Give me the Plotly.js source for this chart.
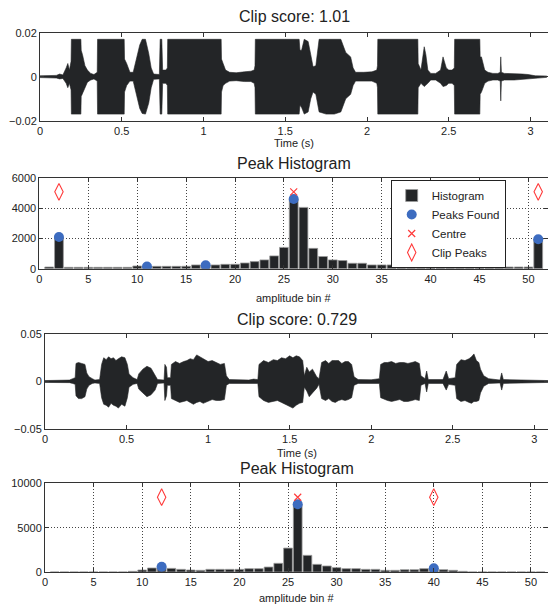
<!DOCTYPE html>
<html><head><meta charset="utf-8">
<script src="https://cdn.plot.ly/plotly-3.0.1.min.js"></script>
<style>html,body{margin:0;padding:0;background:#fff}</style>
</head><body><div id="chart" style="width:548px;height:604px"></div>
<script>
// ---- Waveform 1 envelope (clipped) ----
const waveTime1 = [
0, 0.05, 0.10, 0.12, 0.14, 0.16, 0.17, 0.18, 0.19, 0.192,
0.250, 0.252, 0.26, 0.275, 0.29, 0.31, 0.33, 0.35, 0.352, 0.515,
0.517, 0.53, 0.55, 0.57, 0.59, 0.61, 0.625, 0.645, 0.665, 0.68,
0.695, 0.71, 0.73, 0.735, 0.745, 0.75, 0.77, 0.779, 0.781, 1.108,
1.11, 1.12, 1.135, 1.16, 1.2, 1.25, 1.29, 1.31, 1.315, 1.317,
1.585, 1.59, 1.6, 1.616, 1.64, 1.656, 1.67, 1.687, 1.70, 1.707,
1.75, 1.8, 1.84, 1.87, 1.90, 1.915, 1.93, 1.98, 2.03, 2.06,
2.064, 2.066, 2.311, 2.313, 2.33, 2.35, 2.36, 2.372, 2.39, 2.42,
2.45, 2.465, 2.485, 2.5, 2.52, 2.534, 2.536, 2.69, 2.692, 2.70,
2.72, 2.74, 2.77, 2.80, 2.815, 2.818, 2.822, 2.84, 2.9, 2.95,
2.985, 3.03, 3.1];
const waveUpper1 = [
0.0004, 0.0005, 0.0006, 0.0012, 0.0008, 0.004, 0.006, 0.003, 0.007, 0.017,
0.017, 0.012, 0.010, 0.005, 0.003, 0.0015, 0.001, 0.002, 0.017, 0.017,
0.008, 0.006, 0.002, 0.002, 0.009, 0.0144, 0.017, 0.017, 0.0106, 0.004,
0.0012, 0.001, 0.001, 0.017, 0.017, 0.003, 0.003, 0.004, 0.017, 0.017,
0.008, 0.006, 0.003, 0.002, 0.0018, 0.0022, 0.0025, 0.003, 0.005, 0.017,
0.017, 0.012, 0.012, 0.017, 0.016, 0.010, 0.0045, 0.005, 0.012, 0.017,
0.017, 0.017, 0.017, 0.011, 0.009, 0.004, 0.002, 0.002, 0.0022, 0.003,
0.005, 0.017, 0.017, 0.006, 0.003, 0.0136, 0.010, 0.003, 0.0015, 0.0015,
0.003, 0.009, 0.004, 0.003, 0.003, 0.004, 0.017, 0.017, 0.009, 0.009,
0.003, 0.002, 0.0015, 0.0015, 0.002, 0.009, 0.002, 0.0015, 0.0015, 0.0012,
0.001, 0.0004, 0.0003];
const waveLower1 = [
-0.0004, -0.0005, -0.0006, -0.001, -0.0008, -0.003, -0.005, -0.003, -0.006, -0.017,
-0.017, -0.009, -0.0076, -0.005, -0.0025, -0.0015, -0.001, -0.002, -0.017, -0.017,
-0.007, -0.004, -0.002, -0.002, -0.009, -0.0144, -0.0167, -0.017, -0.012, -0.005,
-0.0012, -0.001, -0.001, -0.017, -0.017, -0.003, -0.003, -0.004, -0.017, -0.017,
-0.007, -0.004, -0.003, -0.002, -0.0018, -0.0022, -0.0022, -0.003, -0.005, -0.017,
-0.017, -0.013, -0.014, -0.017, -0.016, -0.010, -0.007, -0.008, -0.013, -0.016,
-0.017, -0.017, -0.016, -0.010, -0.008, -0.004, -0.002, -0.002, -0.002, -0.003,
-0.005, -0.017, -0.017, -0.005, -0.003, -0.0045, -0.004, -0.003, -0.0015, -0.0015,
-0.003, -0.0045, -0.004, -0.003, -0.003, -0.004, -0.017, -0.017, -0.008, -0.007,
-0.003, -0.002, -0.0015, -0.0015, -0.002, -0.011, -0.002, -0.0015, -0.0015, -0.0012,
-0.001, -0.0004, -0.0003];

// ---- Waveform 2 envelope ----
const waveTime2 = [
0, 0.10, 0.15, 0.17, 0.185, 0.19, 0.205, 0.225, 0.245, 0.256, 0.27, 0.29, 0.306, 0.335,
0.347, 0.36, 0.375, 0.39, 0.405, 0.42, 0.435, 0.45, 0.47, 0.49, 0.505, 0.515, 0.54, 0.565,
0.575, 0.60, 0.625, 0.65, 0.675, 0.69, 0.73, 0.735, 0.745, 0.75, 0.77,
0.775, 0.80, 0.825, 0.85, 0.87, 0.89, 0.91, 0.93, 0.95, 0.97, 1.0, 1.025, 1.05, 1.075, 1.10, 1.112, 1.13, 1.2, 1.25, 1.28, 1.305,
1.312, 1.34, 1.37, 1.40, 1.425, 1.45, 1.475, 1.50, 1.52, 1.54, 1.56, 1.58, 1.59, 1.605, 1.62, 1.64, 1.666, 1.68,
1.696, 1.72, 1.74, 1.76, 1.78, 1.80, 1.82, 1.84, 1.86, 1.88, 1.895, 1.92, 2.0, 2.05,
2.058, 2.08, 2.10, 2.125, 2.15, 2.175, 2.20, 2.225, 2.25, 2.27, 2.295, 2.305, 2.33, 2.34, 2.35, 2.44, 2.46, 2.475, 2.515,
2.524, 2.55, 2.575, 2.60, 2.615, 2.63, 2.645, 2.66, 2.67, 2.69, 2.72, 2.79, 2.80, 2.81, 2.9, 3.0, 3.084];
const waveUpper2 = [
0.001, 0.001, 0.0015, 0.003, 0.004, 0.019, 0.020, 0.019, 0.018, 0.009, 0.005, 0.003, 0.0015, 0.002,
0.018, 0.025, 0.023, 0.026, 0.024, 0.025, 0.022, 0.024, 0.026, 0.025, 0.018, 0.008, 0.004, 0.002,
0.008, 0.013, 0.016, 0.014, 0.006, 0.002, 0.0015, 0.018, 0.015, 0.004, 0.004,
0.018, 0.021, 0.019, 0.021, 0.022, 0.024, 0.023, 0.028, 0.026, 0.024, 0.021, 0.022, 0.020, 0.018, 0.019, 0.006, 0.002, 0.0018, 0.0015, 0.0025, 0.002,
0.018, 0.022, 0.020, 0.023, 0.022, 0.025, 0.024, 0.027, 0.025, 0.027, 0.026, 0.022, 0.006, 0.015, 0.010, 0.013, 0.005, 0.003,
0.020, 0.022, 0.019, 0.022, 0.022, 0.022, 0.019, 0.021, 0.021, 0.018, 0.005, 0.002, 0.0018, 0.003,
0.018, 0.020, 0.020, 0.021, 0.019, 0.020, 0.020, 0.019, 0.020, 0.021, 0.019, 0.006, 0.003, 0.011, 0.002, 0.002, 0.011, 0.003, 0.004,
0.018, 0.023, 0.022, 0.024, 0.026, 0.029, 0.022, 0.020, 0.013, 0.006, 0.003, 0.0015, 0.009, 0.002, 0.0015, 0.0012, 0.001];
const waveLower2 = [
-0.001, -0.001, -0.0012, -0.002, -0.003, -0.015, -0.018, -0.018, -0.016, -0.008, -0.004, -0.002, -0.0015, -0.002,
-0.017, -0.024, -0.025, -0.027, -0.023, -0.025, -0.026, -0.028, -0.024, -0.026, -0.017, -0.006, -0.003, -0.002,
-0.008, -0.012, -0.016, -0.014, -0.009, -0.002, -0.0015, -0.020, -0.015, -0.004, -0.004,
-0.018, -0.020, -0.022, -0.021, -0.020, -0.022, -0.024, -0.022, -0.021, -0.023, -0.021, -0.019, -0.020, -0.020, -0.019, -0.004, -0.002, -0.0018, -0.0015, -0.002, -0.002,
-0.016, -0.020, -0.022, -0.021, -0.020, -0.022, -0.024, -0.026, -0.028, -0.025, -0.023, -0.022, -0.006, -0.010, -0.016, -0.012, -0.007, -0.003,
-0.018, -0.020, -0.018, -0.021, -0.022, -0.020, -0.019, -0.020, -0.019, -0.017, -0.004, -0.002, -0.0018, -0.002,
-0.017, -0.019, -0.020, -0.021, -0.020, -0.019, -0.021, -0.021, -0.020, -0.019, -0.020, -0.004, -0.002, -0.011, -0.002, -0.002, -0.009, -0.003, -0.004,
-0.018, -0.021, -0.020, -0.022, -0.023, -0.021, -0.021, -0.020, -0.012, -0.005, -0.002, -0.0015, -0.009, -0.002, -0.0015, -0.0012, -0.001];

// ---- Histograms (bins 1..51) ----
const bins = [];
for (let i = 1; i <= 51; i++) bins.push(i);
const hist1 = [
110, 2100, 90, 90, 90, 90, 90, 90, 90, 180,
150, 157, 157, 157, 160, 250, 230, 250, 290, 292,
380, 470, 585, 850, 1415, 4630, 4070, 1350, 810, 585,
540, 360, 360, 250, 250, 250, 230, 230, 200, 200,
180, 130, 130, 120, 120, 120, 120, 110, 110, 110,
1950];
const hist2 = [
0, 0, 0, 0, 0, 0, 0, 0, 75, 225,
450, 600, 410, 300, 225, 190, 300, 300, 300, 300,
375, 375, 560, 980, 2700, 7650, 1880, 865, 680, 490,
375, 375, 300, 300, 190, 190, 260, 260, 375, 420,
260, 190, 75, 0, 0, 0, 0, 0, 0, 0,
0];
const peaksX1 = [2, 11, 17, 26, 51];
const peaksY1 = [2100, 150, 230, 4630, 1950];
const centreX1 = [26], centreY1 = [5100];
const clipX1 = [2, 51], clipY1 = [5100, 5100];
const peaksX2 = [12, 26, 40];
const peaksY2 = [600, 7650, 420];
const centreX2 = [26], centreY2 = [8440];
const clipX2 = [12, 40], clipY2 = [8440, 8440];

const titles = ['Clip score: 1.01', 'Peak Histogram', 'Clip score: 0.729', 'Peak Histogram'];
const xLabels = ['Time (s)', 'amplitude bin #', 'Time (s)', 'amplitude bin #'];

const DARK = '#232527', BLUE = '#3d6cc0', RED = '#ff3b3b';

function wave(t, up, lo, xa, ya) {
  return [
    {x: t, y: lo, xaxis: xa, yaxis: ya, type: 'scatter', mode: 'lines',
     line: {color: DARK, width: 0.6}, showlegend: false, hoverinfo: 'skip'},
    {x: t, y: up, xaxis: xa, yaxis: ya, type: 'scatter', mode: 'lines', fill: 'tonexty',
     fillcolor: DARK, line: {color: DARK, width: 0.6}, showlegend: false, hoverinfo: 'skip'}
  ];
}
function histo(h, px, py, cx, cy, kx, ky, xa, ya, leg) {
  return [
    {x: bins, y: h, xaxis: xa, yaxis: ya, type: 'bar', name: 'Histogram', showlegend: leg,
     marker: {color: DARK, line: {color: '#9a9a9a', width: 0.8}}},
    {x: px, y: py, xaxis: xa, yaxis: ya, type: 'scatter', mode: 'markers', name: 'Peaks Found',
     showlegend: leg, marker: {color: BLUE, size: 10}},
    {x: cx, y: cy, xaxis: xa, yaxis: ya, type: 'scatter', mode: 'markers', name: 'Centre',
     showlegend: leg, marker: {symbol: 'x-thin', size: 7, color: RED, line: {color: RED, width: 1.2}}},
    {x: kx, y: ky, xaxis: xa, yaxis: ya, type: 'scatter', mode: 'markers', name: 'Clip Peaks',
     showlegend: leg, marker: {symbol: 'diamond-tall-open', size: 12, color: RED, line: {color: RED, width: 1.1}}}
  ];
}

const data = [].concat(
  wave(waveTime1, waveUpper1, waveLower1, 'x', 'y'),
  histo(hist1, peaksX1, peaksY1, centreX1, centreY1, clipX1, clipY1, 'x2', 'y2', true),
  wave(waveTime2, waveUpper2, waveLower2, 'x3', 'y3'),
  histo(hist2, peaksX2, peaksY2, centreX2, centreY2, clipX2, clipY2, 'x4', 'y4', false)
);

const H = 604, W = 548;
const base = {showline: true, linecolor: '#333', linewidth: 1, mirror: 'ticks', ticks: 'inside',
  ticklen: 4, tickcolor: '#333', zeroline: false, showgrid: false, fixedrange: true,
  tickfont: {size: 11, color: '#222'}};
const grid = {showgrid: true, gridcolor: '#444', griddash: '1px,2px', gridwidth: 1};
function dom(top, bottom) { return [1 - bottom / H, 1 - top / H]; }

const layout = {
  width: W, height: H, margin: {l: 0, r: 0, t: 0, b: 0},
  paper_bgcolor: '#fff', plot_bgcolor: '#fff',
  font: {family: 'Liberation Sans, Arial, Helvetica, sans-serif', size: 11, color: '#222'},
  bargap: 0.1,
  xaxis:  Object.assign({}, base, {domain: [40 / W, 1], range: [0, 3.107], tick0: 0, dtick: 0.5, anchor: 'y'}),
  yaxis:  Object.assign({}, base, {domain: dom(32.7, 120.7), range: [-0.02, 0.02], tickvals: [-0.02, 0, 0.02], anchor: 'x'}),
  xaxis2: Object.assign({}, base, grid, {domain: [39.4 / W, 1], range: [0, 52], tick0: 0, dtick: 5, anchor: 'y2'}),
  yaxis2: Object.assign({}, base, grid, {domain: dom(178.3, 268.7), range: [0, 6000], dtick: 2000, tickformat: 'd', anchor: 'x2'}),
  xaxis3: Object.assign({}, base, {domain: [45 / W, 1], range: [0, 3.084], tick0: 0, dtick: 0.5, anchor: 'y3'}),
  yaxis3: Object.assign({}, base, {domain: dom(334, 429), range: [-0.05, 0.05], tickvals: [-0.05, 0, 0.05], anchor: 'x3'}),
  xaxis4: Object.assign({}, base, grid, {domain: [45 / W, 1], range: [0, 51.75], tick0: 0, dtick: 5, anchor: 'y4'}),
  yaxis4: Object.assign({}, base, grid, {domain: dom(483.4, 572), range: [0, 10000], dtick: 5000, tickformat: 'd', anchor: 'x4'}),
  showlegend: true,
  legend: {x: 390.7 / W, y: 1 - 180 / H, xanchor: 'left', yanchor: 'top', bgcolor: '#fff',
    bordercolor: '#222', borderwidth: 1, font: {size: 11.5, color: '#222'}, itemwidth: 30,
    traceorder: 'normal', tracegroupgap: 0},
  annotations: []
};
const titleY = [16, 163, 319, 468];
const labelY = [143, 298, 453, 598];
const xrefs = ['x domain', 'x2 domain', 'x3 domain', 'x4 domain'];
for (let i = 0; i < 4; i++) {
  layout.annotations.push({text: titles[i], xref: xrefs[i], x: 0.5, yref: 'paper', y: 1 - titleY[i] / H,
    xanchor: 'center', yanchor: 'middle', showarrow: false, font: {size: 16, color: '#222'}});
  layout.annotations.push({text: xLabels[i], xref: xrefs[i], x: 0.5, yref: 'paper', y: 1 - labelY[i] / H,
    xanchor: 'center', yanchor: 'middle', showarrow: false, font: {size: 11, color: '#222'}});
}
Plotly.newPlot('chart', data, layout, {staticPlot: true, displayModeBar: false});
</script></body></html>
